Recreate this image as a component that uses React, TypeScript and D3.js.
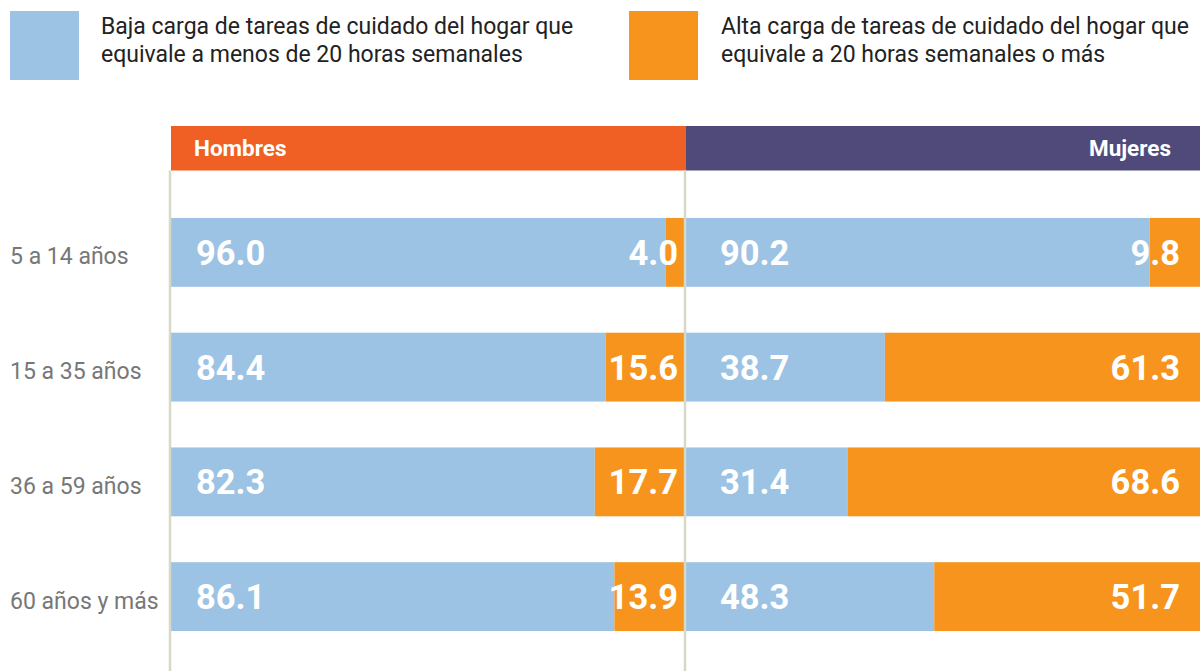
import React from "react";
import * as d3 from "d3";

const categories = ["5 a 14 años", "15 a 35 años", "36 a 59 años", "60 años y más"];
const panels = ["Hombres", "Mujeres"];
const hombresBaja = [96.0, 84.4, 82.3, 86.1];
const hombresAlta = [4.0, 15.6, 17.7, 13.9];
const mujeresBaja = [90.2, 38.7, 31.4, 48.3];
const mujeresAlta = [9.8, 61.3, 68.6, 51.7];
const legendLabels = [
  ["Baja carga de tareas de cuidado del hogar que", "equivale a menos de 20 horas semanales"],
  ["Alta carga de tareas de cuidado del hogar que", "equivale a 20 horas semanales o más"],
];

const W = 1200;
const H = 671;
const BLUE = "#9DC3E4";
const ORANGE = "#F7941D";
const HEAD_ORANGE = "#F05F24";
const HEAD_PURPLE = "#504A7A";
const FONT = "Roboto, 'Noto Sans', sans-serif";

export default function App() {
  const y = d3.scaleBand<string>().domain(categories).range([195, 654]).paddingInner(0.4).paddingOuter(0.2);
  const xH = d3.scaleLinear().domain([0, 100]).range([171, 686]);
  const xM = d3.scaleLinear().domain([0, 100]).range([686, 1200]);
  const panelData = [
    { name: panels[0], x: xH, baja: hombresBaja, alta: hombresAlta, head: HEAD_ORANGE, lo: 25, ro: 8 },
    { name: panels[1], x: xM, baja: mujeresBaja, alta: mujeresAlta, head: HEAD_PURPLE, lo: 34, ro: 20 },
  ];
  const bw = y.bandwidth();
  return (
    <svg width={W} height={H} style={{ position: "absolute", left: 0, top: 0, fontFamily: FONT }}>
      <rect width={W} height={H} fill="#fff" />
      {/* legend */}
      <rect x={10} y={11} width={69} height={69} fill={BLUE} />
      <rect x={629} y={11} width={69} height={69} fill={ORANGE} />
      {legendLabels.map((lines, i) => (
        <text key={i} x={i === 0 ? 101 : 721} y={34} fontSize={23} fill="#222">
          {lines.map((l, j) => (
            <tspan key={j} x={i === 0 ? 101 : 721} dy={j === 0 ? 0 : 28}>{l}</tspan>
          ))}
        </text>
      ))}
      {/* headers */}
      {panelData.map((p, i) => (
        <g key={p.name}>
          <rect x={p.x(0)} y={126} width={p.x(100) - p.x(0)} height={44.5} fill={p.head} />
          <text
            x={i === 0 ? p.x(0) + 23 : p.x(100) - 29}
            y={156}
            fontSize={22.5}
            fontWeight={700}
            fill="#fff"
            textAnchor={i === 0 ? "start" : "end"}
          >
            {p.name}
          </text>
        </g>
      ))}
      {/* bars */}
      {panelData.map((p) => (
        <g key={p.name + "bars"}>
          {categories.map((c, k) => {
            const y0 = y(c)!;
            return (
              <g key={c}>
                <rect x={p.x(0)} y={y0} width={p.x(p.baja[k]) - p.x(0)} height={bw} fill={BLUE} />
                <rect x={p.x(p.baja[k])} y={y0} width={p.x(100) - p.x(p.baja[k])} height={bw} fill={ORANGE} />
                <text x={p.x(0) + p.lo} y={y0 + bw / 2 + 12.5} fontSize={34.5} fontWeight={700} fill="#fff">
                  {p.baja[k].toFixed(1)}
                </text>
                <text x={p.x(100) - p.ro} y={y0 + bw / 2 + 12.5} fontSize={34.5} fontWeight={700} fill="#fff" textAnchor="end">
                  {p.alta[k].toFixed(1)}
                </text>
              </g>
            );
          })}
        </g>
      ))}
      {/* vertical lines */}
      {[xH(0), xM(0)].map((xv, i) => (
        <line key={i} x1={xv - 1} x2={xv - 1} y1={170.5} y2={H} stroke="#D8D8C6" strokeWidth={2.5} />
      ))}
      {/* category labels */}
      {categories.map((c) => (
        <text key={c} x={10} y={y(c)! + bw / 2 + 12} fontSize={23} fill="#777">
          {c}
        </text>
      ))}
    </svg>
  );
}
